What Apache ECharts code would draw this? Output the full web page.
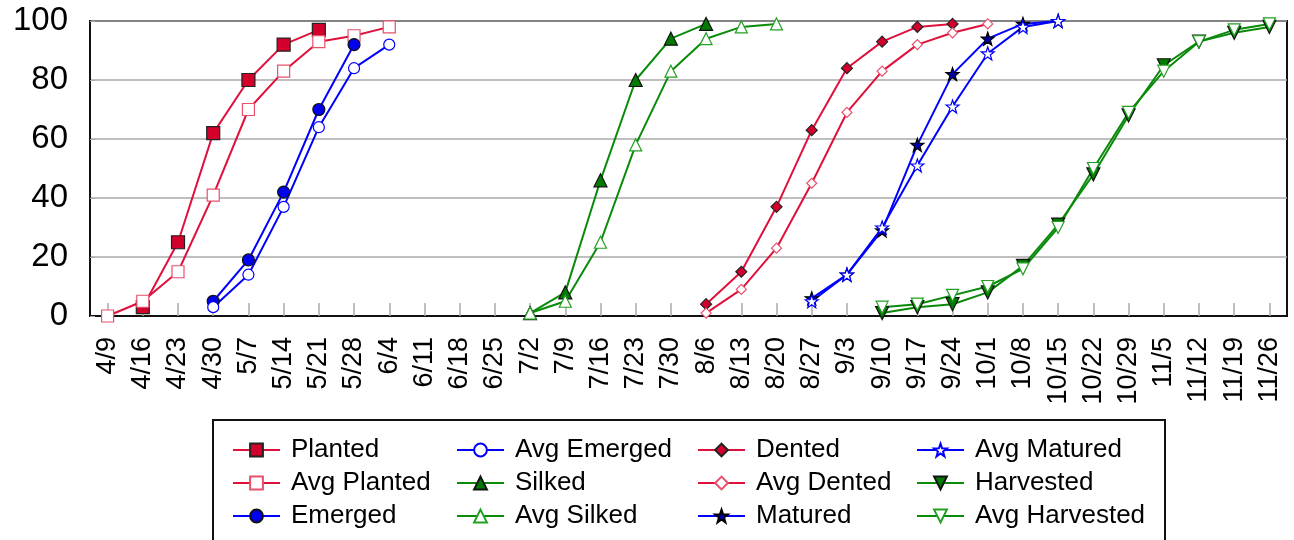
<!DOCTYPE html>
<html>
<head>
<meta charset="utf-8">
<script src="https://cdn.jsdelivr.net/npm/echarts@6/dist/echarts.min.js"></script>
<style>
html,body{margin:0;padding:0;background:#fff;}
#main{width:1294px;height:540px;}
</style>
</head>
<body>
<div id="main"></div>
<script>
var categories = ['4/9','4/16','4/23','4/30','5/7','5/14','5/21','5/28','6/4','6/11','6/18','6/25','7/2','7/9','7/16','7/23','7/30','8/6','8/13','8/20','8/27','9/3','9/10','9/17','9/24','10/1','10/8','10/15','10/22','10/29','11/5','11/12','11/19','11/26'];
var yTicks = [0, 20, 40, 60, 80, 100];
var _ = null;
var planted      = [_,3,25,62,80,92,97,_,_,_,_,_,_,_,_,_,_,_,_,_,_,_,_,_,_,_,_,_,_,_,_,_,_,_];
var avgPlanted   = [0,5,15,41,70,83,93,95,98,_,_,_,_,_,_,_,_,_,_,_,_,_,_,_,_,_,_,_,_,_,_,_,_,_];
var emerged      = [_,_,_,5,19,42,70,92,_,_,_,_,_,_,_,_,_,_,_,_,_,_,_,_,_,_,_,_,_,_,_,_,_,_];
var avgEmerged   = [_,_,_,3,14,37,64,84,92,_,_,_,_,_,_,_,_,_,_,_,_,_,_,_,_,_,_,_,_,_,_,_,_,_];
var silked       = [_,_,_,_,_,_,_,_,_,_,_,_,1,8,46,80,94,99,_,_,_,_,_,_,_,_,_,_,_,_,_,_,_,_];
var avgSilked    = [_,_,_,_,_,_,_,_,_,_,_,_,1,5,25,58,83,94,98,99,_,_,_,_,_,_,_,_,_,_,_,_,_,_];
var dented       = [_,_,_,_,_,_,_,_,_,_,_,_,_,_,_,_,_,4,15,37,63,84,93,98,99,_,_,_,_,_,_,_,_,_];
var avgDented    = [_,_,_,_,_,_,_,_,_,_,_,_,_,_,_,_,_,1,9,23,45,69,83,92,96,99,_,_,_,_,_,_,_,_];
var matured      = [_,_,_,_,_,_,_,_,_,_,_,_,_,_,_,_,_,_,_,_,6,14,29,58,82,94,99,100,_,_,_,_,_,_];
var avgMatured   = [_,_,_,_,_,_,_,_,_,_,_,_,_,_,_,_,_,_,_,_,5,14,30,51,71,89,98,100,_,_,_,_,_,_];
var harvested    = [_,_,_,_,_,_,_,_,_,_,_,_,_,_,_,_,_,_,_,_,_,_,1,3,4,8,17,31,48,68,85,93,96,98];
var avgHarvested = [_,_,_,_,_,_,_,_,_,_,_,_,_,_,_,_,_,_,_,_,_,_,3,4,7,10,16,30,50,69,83,93,97,99];

var RED = '#e0103c', RED_FILL = '#d4002c', RED_LIGHT = '#e8506c';
var BLUE = '#0000ff', BLUE_FILL = '#0000ee';
var GREEN = '#0a8a0a', GREEN_FILL = '#007a00', GREEN_LIGHT = '#22a022';
var STAR = 'path://M0,-10 L2.35,-3.24 L9.51,-3.09 L3.8,1.24 L5.88,8.09 L0,4 L-5.88,8.09 L-3.8,1.24 L-9.51,-3.09 L-2.35,-3.24 Z';
var FONT = '"Liberation Sans", Arial, Helvetica, sans-serif';

function mk(name, data, lineColor, symbol, size, fill, border, rotate) {
  return {
    name: name, type: 'line', data: data, connectNulls: false,
    symbol: symbol, symbolSize: size, symbolRotate: rotate || 0,
    showAllSymbol: true,
    lineStyle: { color: lineColor, width: 2 },
    itemStyle: { color: fill, borderColor: border, borderWidth: 1.2 },
    emphasis: { disabled: true }, z: 3
  };
}

var series = [
  mk('Planted', planted, RED, 'rect', 13, RED_FILL, '#222'),
  mk('Avg Planted', avgPlanted, RED, 'rect', 12, '#fff', RED_LIGHT),
  mk('Emerged', emerged, BLUE, 'circle', 12, BLUE_FILL, '#111'),
  mk('Avg Emerged', avgEmerged, BLUE, 'circle', 11, '#fff', BLUE),
  mk('Silked', silked, GREEN, 'triangle', 13, GREEN_FILL, '#111'),
  mk('Avg Silked', avgSilked, GREEN, 'triangle', 12, '#fff', GREEN_LIGHT),
  mk('Dented', dented, RED, 'diamond', 11, RED_FILL, '#222'),
  mk('Avg Dented', avgDented, RED, 'diamond', 10, '#fff', RED_LIGHT),
  mk('Matured', matured, BLUE, STAR, 13, '#0000aa', '#000'),
  mk('Avg Matured', avgMatured, BLUE, STAR, 13, '#fff', BLUE),
  mk('Harvested', harvested, GREEN, 'triangle', 13, GREEN_FILL, '#111', 180),
  mk('Avg Harvested', avgHarvested, GREEN, 'triangle', 12, '#fff', GREEN_LIGHT, 180)
];

var names = series.map(function (s) { return s.name; });
var legendLefts = [232, 456, 697, 916];
var legends = legendLefts.map(function (l, i) {
  return {
    orient: 'vertical', left: l, top: 437, padding: 0,
    itemWidth: 47, itemHeight: 16, itemGap: 7,
    data: names.slice(i * 3, i * 3 + 3),
    textStyle: { fontSize: 26, color: '#000', fontFamily: FONT, padding: [0, 0, 0, 6] },
    selectedMode: false
  };
});

var chart = echarts.init(document.getElementById('main'), null, { renderer: 'canvas' });
chart.setOption({
  animation: false,
  backgroundColor: '#fff',
  textStyle: { fontFamily: FONT },
  grid: { left: 90, right: 7, top: 21, bottom: 224, show: true, borderColor: '#111', borderWidth: 2, backgroundColor: 'transparent' },
  xAxis: {
    type: 'category', data: categories, boundaryGap: true,
    axisLine: { lineStyle: { color: '#111', width: 2 } },
    axisTick: { show: true, inside: true, length: 13, alignWithLabel: true, lineStyle: { color: '#aaa', width: 1.5 } },
    axisLabel: { interval: 0, rotate: 90, fontSize: 27, color: '#000', margin: 21, fontFamily: FONT },
    splitLine: { show: false }
  },
  yAxis: {
    type: 'value', min: yTicks[0], max: yTicks[yTicks.length - 1], interval: yTicks[1] - yTicks[0],
    axisLine: { show: true, lineStyle: { color: '#111', width: 2 } },
    axisTick: { show: true, inside: true, length: 5, lineStyle: { color: '#aaa' } },
    axisLabel: { fontSize: 33, color: '#000', margin: 22, fontFamily: FONT },
    splitLine: { show: true, lineStyle: { color: '#aaa', width: 1.5 } }
  },
  legend: legends,
  graphic: [{
    type: 'rect', left: 212, top: 419, z: -1,
    shape: { width: 952, height: 140 },
    style: { fill: '#fff', stroke: '#111', lineWidth: 2 }
  }],
  series: series
});
</script>
</body>
</html>
